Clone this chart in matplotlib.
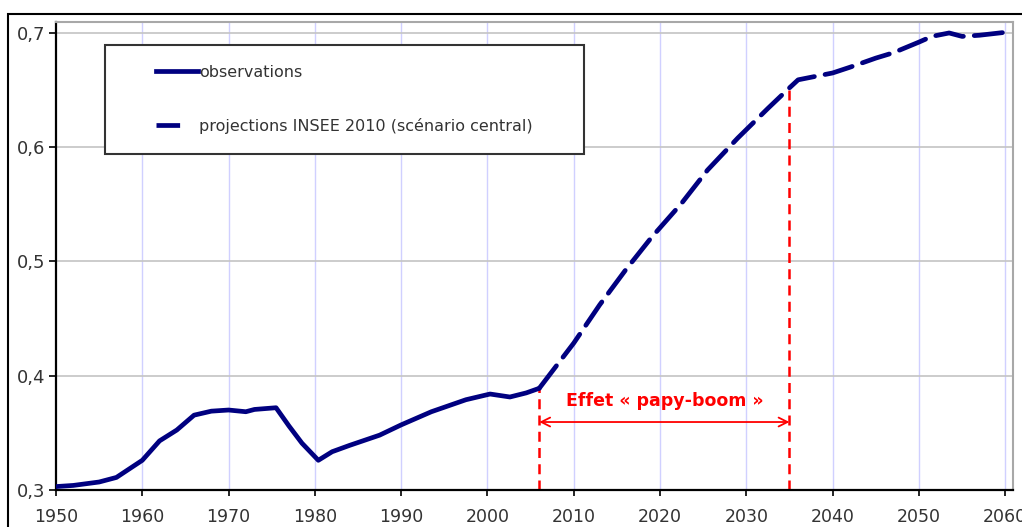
import matplotlib
matplotlib.use("Agg")
import matplotlib.pyplot as plt
from matplotlib.patches import Rectangle
from matplotlib.lines import Line2D
import numpy as np

# observed ratio (solid) and INSEE 2010 projection (dashed)
obs_years = [1950, 1952, 1955, 1957, 1960, 1962, 1964, 1966, 1968, 1970, 1972,
             1973, 1975.5, 1977, 1978.5, 1980.4, 1982, 1984, 1987.5, 1990,
             1993.5, 1997.5, 2000.3, 2002.6, 2004.5, 2006]
obs_vals = [0.303, 0.304, 0.307, 0.311, 0.326, 0.343, 0.3525, 0.3655, 0.369,
            0.370, 0.3685, 0.3705, 0.372, 0.356, 0.341, 0.326, 0.3335, 0.339,
            0.348, 0.357, 0.3685, 0.379, 0.384, 0.3814, 0.385, 0.389]

proj_years = [2006, 2010, 2013, 2016, 2019, 2022.5, 2025.5, 2029, 2032.5, 2035,
              2036, 2040, 2042, 2045, 2047, 2050, 2051.5, 2053.5, 2055, 2057,
              2060.5]
proj_vals = [0.389, 0.4286, 0.462, 0.4925, 0.521, 0.551, 0.58, 0.608, 0.634,
             0.652, 0.659, 0.665, 0.670, 0.678, 0.6826, 0.692, 0.697, 0.700,
             0.697, 0.698, 0.701]

boom_start, boom_end = 2006, 2035
x_ticks = list(range(1950, 2061, 10))
y_ticks = [0.3, 0.4, 0.5, 0.6, 0.7]
y_labels = ["0,3", "0,4", "0,5", "0,6", "0,7"]

navy = "#000080"
red = "#ff0000"

fig = plt.figure(figsize=(10.22, 5.27), dpi=100)
ax = fig.add_axes([56 / 1022, 37 / 527, 957 / 1022, 468 / 527])

ax.set_xlim(1950, 2060.9)
ax.set_ylim(0.3, 0.7096)

# grid
for x in x_ticks[1:]:
    ax.axvline(x, color="#d0d0ff", lw=1.0, zorder=0)
for y in y_ticks[1:]:
    ax.axhline(y, color="#c4c4c4", lw=1.2, zorder=0)

ax.plot(obs_years, obs_vals, color=navy, lw=3.4, solid_capstyle="round",
        solid_joinstyle="round", zorder=3)
ax.plot(proj_years, proj_vals, color=navy, lw=3.4, linestyle=(0, (6, 2.3)),
        dash_capstyle="round", zorder=3)

# papy-boom markers
y_start = np.interp(boom_start, proj_years, proj_vals)
y_end = np.interp(boom_end, proj_years, proj_vals)
ax.plot([boom_start, boom_start], [0.3, y_start], color=red, lw=1.8,
        linestyle=(0, (4, 2.5)), zorder=2)
ax.plot([boom_end, boom_end], [0.3, y_end], color=red, lw=1.8,
        linestyle=(0, (4, 2.5)), zorder=2)
ax.annotate("", xy=(boom_start, 0.3595), xytext=(boom_end, 0.3595),
            arrowprops=dict(arrowstyle="<->", color=red, lw=1.3,
                            mutation_scale=16, shrinkA=0, shrinkB=0))
ax.text((boom_start + boom_end) / 2, 0.378, "Effet « papy-boom »", color=red,
        fontsize=12.5, fontweight="bold", ha="center", va="center")

ax.set_xticks(x_ticks)
ax.set_yticks(y_ticks)
ax.set_yticklabels(y_labels)
ax.tick_params(axis="x", length=4, width=1.2, pad=9, labelsize=12.5,
               labelcolor="#333333")
ax.tick_params(axis="y", length=5, width=1.2, pad=3, labelsize=13,
               labelcolor="#333333")
ax.spines["left"].set_linewidth(1.6)
ax.spines["bottom"].set_linewidth(1.6)
ax.spines["top"].set_color("#a8a8a8")
ax.spines["right"].set_color("#a8a8a8")
ax.spines["top"].set_linewidth(1.5)
ax.spines["right"].set_linewidth(1.5)

# legend box
ax.add_patch(Rectangle((49 / 957, (490 - 154) / 468), 479 / 957, 109 / 468,
                       transform=ax.transAxes, facecolor="white",
                       edgecolor="#333333", lw=1.5, zorder=5))
handles = [Line2D([], [], color=navy, lw=3.4),
           Line2D([], [], color=navy, lw=3.4, linestyle=(0, (5, 10)))]
leg = ax.legend(handles, ["observations",
                          "projections INSEE 2010 (scénario central)"],
                loc="upper left", bbox_to_anchor=(92 / 957, (490 - 57) / 468),
                frameon=False, fontsize=11.5, handlelength=2.6,
                handletextpad=0.1, labelspacing=2.35, borderpad=0,
                labelcolor="#333333")
leg.set_zorder(6)

# outer frame
fig.add_artist(Rectangle((8 / 1022, -0.2), 1.2, 1.2 - 14 / 527,
                         transform=fig.transFigure, fill=False,
                         edgecolor="black", lw=1.5))

fig.savefig("out.png", dpi=100)
